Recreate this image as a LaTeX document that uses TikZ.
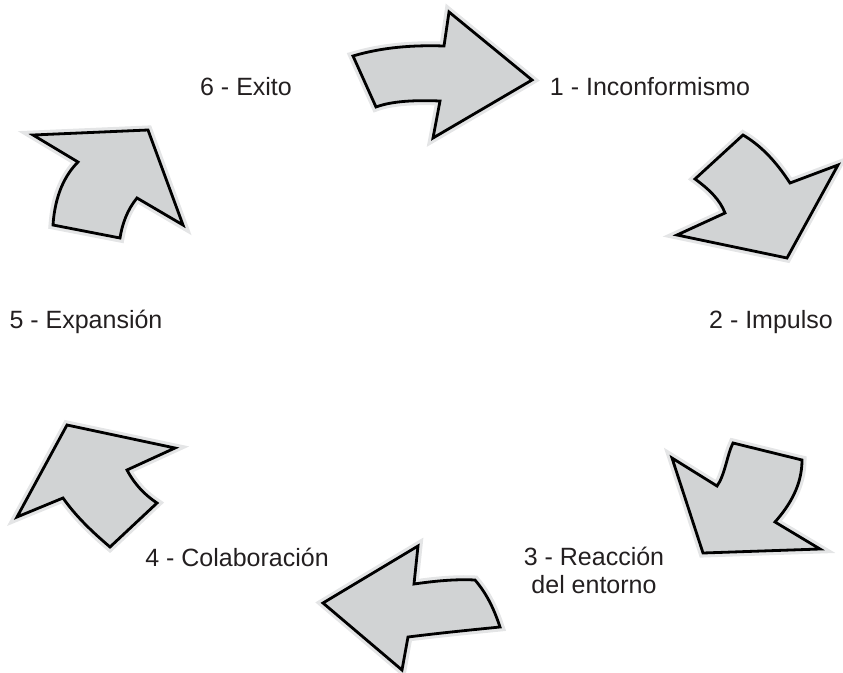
\documentclass[tikz,border=0pt]{standalone}
\usepackage{fontspec}
\setmainfont{Liberation Sans}
\definecolor{arrfill}{HTML}{D1D3D4}
\definecolor{halo}{HTML}{E4E5E6}
\definecolor{txt}{HTML}{231F20}
\tikzset{
  bigarrow/.style={fill=arrfill, draw=black, line width=2.8pt, line join=miter,
    preaction={draw=halo, line width=9pt}},
  lbl/.style={text=txt, font=\fontsize{25}{28}\selectfont, inner sep=0pt, align=center}
}
\begin{document}
\begin{tikzpicture}[x=1pt,y=-1pt]
\useasboundingbox (0,0) rectangle (843,672);
% arrow 1 (top)
\path[bigarrow] (353,56) .. controls (383,47) and (414,45) .. (444,46)
  -- (449,12) -- (532,80) -- (433,138) -- (440,101)
  .. controls (415,100) and (392,101) .. (376,107) -- cycle;
% arrow 2 (upper right)
\path[bigarrow] (743,135) -- (695,179) .. controls (710,190) and (720,200) .. (725,213)
  -- (677,235) -- (787,258) -- (838,165) -- (790,183)
  .. controls (775,160) and (760,145) .. cycle;
% arrow 3 (lower right)
\path[bigarrow] (672,458) -- (717,486) .. controls (725,475) and (727,455) .. (733,443)
  -- (802,460) .. controls (802,485) and (790,505) .. (775,522)
  -- (820,549) -- (703,553) -- cycle;
% arrow 4 (bottom)
\path[bigarrow] (323,603) -- (418,546) -- (414,584)
  .. controls (435,581) and (455,579) .. (475,580)
  .. controls (488,595) and (495,612) .. (500,627)
  .. controls (470,630) and (440,633) .. (408,637)
  -- (402,670) -- cycle;
% arrow 5 (lower left)
\path[bigarrow] (67,425) -- (175,448) -- (127,470)
  .. controls (135,485) and (145,495) .. (157,503)
  -- (110,547) .. controls (90,530) and (75,515) .. (63,498)
  -- (17,517) -- cycle;
% arrow 6 (upper left)
\path[bigarrow] (33,135) -- (148,130) -- (183,225) -- (137,198)
  .. controls (127,210) and (122,225) .. (120,238)
  -- (53,225) .. controls (55,195) and (65,175) .. (78,162) -- cycle;
% labels
\node[lbl] (l1) at (650,87) {1 - Inconformismo};
\node[lbl] (l2) at (771,322) {2 - Impulso};
\node[lbl] (l3) at (594,570) {3 - Reacción\\del entorno};
\node[lbl] (l4) at (237,557) {4 - Colaboración};
\node[lbl] (l5) at (86,322) {5 - Expansión};
\node[lbl] (l6) at (246,87) {6 - Exito};
\end{tikzpicture}
\end{document}
